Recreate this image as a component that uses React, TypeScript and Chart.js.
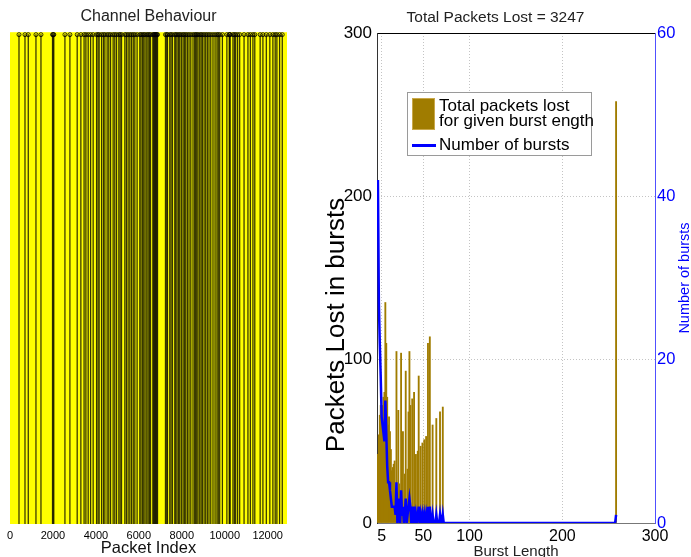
import React, { useEffect, useRef } from 'react';
import { Chart, registerables } from 'chart.js';
Chart.register(...registerables);

const FONT = "'Liberation Sans', Arial, Helvetica, sans-serif";
Chart.defaults.font.family = FONT;

// ---- Left panel: channel behaviour (indices of lost packets) ----
const lossPacketIndex = [
  419, 698, 851, 1209, 1442, 1980, 2013, 2040, 2558, 2790, 3129, 3300, 3450, 3534, 3641, 3753,
  3873, 4032, 4100, 4152, 4264, 4350, 4418, 4524, 4600, 4683, 4803, 4880, 4962, 5069, 5130,
  5194, 5348, 5420, 5501, 5580, 5659, 5740, 5813, 5919, 6045, 6100, 6171, 6230, 6291, 6370,
  6431, 6490, 6543, 6650, 6690, 6720, 6750, 6780, 6810, 6840, 6870, 7240, 7300, 7333, 7440,
  7500, 7566, 7673, 7720, 7779, 7850, 7905, 7980, 8058, 8120, 8184, 8260, 8337, 8420, 8523,
  8600, 8649, 8700, 8756, 8835, 8900, 8961, 9040, 9114, 9190, 9267, 9350, 9453, 9550, 9640,
  9700, 9765, 9891, 10100, 10210, 10230, 10250, 10383, 10450, 10509, 10600, 10695, 10900,
  11081, 11193, 11313, 11400, 11650, 11778, 11937, 12100, 12243, 12350, 12429, 12555, 12680,
];
const channelTicks = [0, 2000, 4000, 6000, 8000, 10000, 12000];

// ---- Right panel: burst statistics ----
const lostBurstLength = [
  1, 2, 3, 4, 5, 6, 7, 8, 9, 10, 11, 12, 13, 14, 15, 16, 17, 18, 19, 20, 21, 23, 24, 26, 27,
  28, 30, 31, 33, 34, 35, 36, 38, 40, 42, 44, 45, 47, 49, 51, 53, 55, 57, 60, 64, 68, 71, 258,
];
const lostPackets = [
  42, 54, 66, 72, 65, 72, 77, 80, 135, 110, 77, 60, 65, 56, 45, 32, 34, 36, 38, 20, 105, 69, 24,
  104, 27, 56, 30, 93, 33, 68, 105, 72, 76, 80, 42, 44, 90, 47, 49, 51, 53, 110, 114, 60, 64,
  68, 71, 258,
];
const burstLength = [
  1, 2, 3, 4, 5, 6, 7, 8, 9, 10, 11, 12, 13, 14, 15, 16, 17, 18, 19, 20, 21, 22, 23, 24, 25, 26,
  27, 28, 29, 30, 31, 32, 33, 34, 35, 36, 37, 38, 39, 40, 41, 42, 43, 44, 45, 46, 47, 48, 49,
  50, 51, 52, 53, 54, 55, 56, 57, 58, 59, 60, 61, 62, 63, 64, 65, 66, 67, 68, 69, 70, 71, 72,
  257, 258,
];
const burstCount = [
  42, 27, 22, 18, 13, 12, 11, 10, 15, 11, 7, 5, 5, 4, 3, 2, 2, 2, 2, 1, 5, 0, 3, 1, 0, 4,
  1, 2, 0, 1, 3, 0, 1, 2, 3, 2, 0, 2, 0, 2, 0, 1, 0, 1, 2, 0, 1, 0, 1,
  0, 1, 0, 1, 0, 2, 0, 2, 0, 0, 1, 0, 0, 0, 1, 0, 0, 0, 1, 0, 0, 1, 0,
  0, 1,
];
const burstTicks = [5, 50, 100, 200, 300];
const lostTicks = [0, 100, 200, 300];
const countTicks = [0, 20, 40, 60];

const leftTitle = 'Channel Behaviour';
const leftXTitle = 'Packet Index';
const rightTitle = 'Total Packets Lost = 3247';
const rightXTitle = 'Burst Length';
const lostAxisTitle = 'Packets Lost in bursts';
const countAxisTitle = 'Number of bursts';
const legendLost = ['Total packets lost', 'for given burst ength'];
const legendCount = 'Number of bursts';

const GOLD = '#a07c00';
const BLUE = '#0000ff';
const plain = (v: any) => String(v);

function ChannelChart() {
  const ref = useRef<HTMLCanvasElement>(null);
  useEffect(() => {
    const yellowBg = {
      id: 'yellowBg',
      beforeDatasetsDraw(chart: any) {
        const { ctx, chartArea: a } = chart;
        ctx.save();
        ctx.fillStyle = '#ffff00';
        ctx.fillRect(a.left, a.top, a.right - a.left, a.bottom - a.top);
        ctx.restore();
      },
    };
    const chart = new Chart(ref.current as HTMLCanvasElement, {
      type: 'bar',
      data: {
        datasets: [
          {
            type: 'scatter',
            data: lossPacketIndex.map((v) => ({ x: v, y: 1 })),
            pointStyle: 'circle',
            pointRadius: 2,
            borderColor: '#000',
            backgroundColor: 'rgba(0,0,0,0)',
            borderWidth: 0.8,
            clip: false,
            order: 0,
          } as any,
          {
            type: 'bar',
            data: lossPacketIndex.map((v) => ({ x: v, y: 1 })),
            backgroundColor: 'rgba(20,20,0,0.85)',
            barThickness: 0.6,
            order: 1,
          } as any,
        ],
      },
      options: {
        animation: false,
        responsive: false,
        devicePixelRatio: 1,
        layout: { padding: { left: 10, right: 13, top: 0, bottom: 0 } },
        plugins: {
          legend: { display: false },
          tooltip: { enabled: false },
          title: {
            display: true,
            text: leftTitle,
            color: '#222',
            font: { size: 16, weight: 'normal' },
            padding: { top: 7, bottom: 6 },
          },
        },
        scales: {
          x: {
            type: 'linear',
            offset: false,
            min: 0,
            max: 12900,
            afterBuildTicks: (s: any) => {
              s.ticks = channelTicks.map((v) => ({ value: v }));
            },
            afterFit: (s: any) => {
              s.height = 33;
            },
            ticks: {
              color: '#000',
              font: { size: 11 },
              padding: 5,
              maxRotation: 0,
              autoSkip: false,
              callback: plain,
            },
            grid: { display: false, drawTicks: false, offset: false },
            border: { display: false },
            title: {
              display: true,
              text: leftXTitle,
              color: '#111',
              font: { size: 16.5, lineHeight: 1 },
              padding: 0,
            },
          },
          y: { display: false, min: 0, max: 1.005 },
        },
      } as any,
      plugins: [yellowBg],
    });
    return () => chart.destroy();
  }, []);
  return (
    <canvas
      ref={ref}
      width={300}
      height={557}
      style={{ position: 'absolute', left: 0, top: 0, width: 300, height: 557 }}
    />
  );
}

function BurstChart() {
  const ref = useRef<HTMLCanvasElement>(null);
  useEffect(() => {
    const yTitles = {
      id: 'yTitles',
      afterDraw(chart: any) {
        const { ctx, chartArea: a } = chart;
        const midY = (a.top + a.bottom) / 2;
        ctx.save();
        ctx.textAlign = 'center';
        ctx.textBaseline = 'middle';
        ctx.font = `26px ${FONT}`;
        ctx.fillStyle = '#000';
        ctx.translate(37, midY + 47);
        ctx.rotate(-Math.PI / 2);
        ctx.fillText(lostAxisTitle, 0, 0);
        ctx.restore();
        ctx.save();
        ctx.textAlign = 'center';
        ctx.textBaseline = 'middle';
        ctx.font = `14.5px ${FONT}`;
        ctx.fillStyle = BLUE;
        ctx.translate(a.right + 30, midY);
        ctx.rotate(-Math.PI / 2);
        ctx.fillText(countAxisTitle, 0, 0);
        ctx.restore();
      },
    };
    const chart = new Chart(ref.current as HTMLCanvasElement, {
      type: 'bar',
      data: {
        datasets: [
          {
            type: 'line',
            label: legendCount,
            data: burstLength.map((x, i) => ({ x, y: burstCount[i] })),
            yAxisID: 'y2',
            xAxisID: 'x',
            borderColor: BLUE,
            borderWidth: 2.5,
            pointRadius: 0,
            tension: 0,
            order: 0,
          } as any,
          {
            type: 'bar',
            label: legendLost.join(' '),
            data: lostBurstLength.map((x, i) => ({ x, y: lostPackets[i] })),
            yAxisID: 'y',
            xAxisID: 'x',
            backgroundColor: GOLD,
            barThickness: 1.2,
            order: 1,
          } as any,
        ],
      },
      options: {
        animation: false,
        responsive: false,
        devicePixelRatio: 1,
        layout: { padding: 0 },
        plugins: {
          legend: { display: false },
          tooltip: { enabled: false },
          title: {
            display: true,
            text: rightTitle,
            color: '#222',
            font: { size: 15.5, weight: 'normal' },
            padding: { top: 8, bottom: 6.4 },
          },
        },
        scales: {
          x: {
            type: 'linear',
            position: 'bottom',
            offset: false,
            min: 0,
            max: 300,
            afterBuildTicks: (s: any) => {
              s.ticks = burstTicks.map((v) => ({ value: v }));
            },
            afterFit: (s: any) => {
              s.height = 34;
            },
            ticks: {
              color: '#000',
              font: { size: 16 },
              padding: 4,
              maxRotation: 0,
              autoSkip: false,
              callback: plain,
            },
            grid: { color: '#c4c4c4', drawTicks: false, offset: false },
            border: { display: true, color: '#777', dash: [1, 2] },
            title: {
              display: true,
              text: rightXTitle,
              color: '#222',
              font: { size: 15, lineHeight: 0.75 },
              padding: 0,
            },
          },
          xTop: {
            type: 'linear',
            position: 'top',
            offset: false,
            min: 0,
            max: 300,
            ticks: { display: false },
            grid: { drawOnChartArea: false, drawTicks: false },
            border: { display: true, color: '#000' },
            afterFit: (s: any) => {
              s.height = 0;
            },
          },
          y: {
            type: 'linear',
            position: 'left',
            min: 0,
            max: 300,
            afterBuildTicks: (s: any) => {
              s.ticks = lostTicks.map((v) => ({ value: v }));
            },
            afterFit: (s: any) => {
              s.width = 77;
            },
            ticks: { color: '#000', font: { size: 17 }, padding: 5, callback: plain },
            grid: { color: '#c4c4c4', drawTicks: false },
            border: { display: true, color: '#333', dash: [1, 2] },
          },
          y2: {
            type: 'linear',
            position: 'right',
            min: 0,
            max: 60,
            afterBuildTicks: (s: any) => {
              s.ticks = countTicks.map((v) => ({ value: v }));
            },
            afterFit: (s: any) => {
              s.width = 36;
            },
            ticks: { color: BLUE, font: { size: 16.5 }, padding: 2, callback: plain },
            grid: { drawOnChartArea: false, drawTicks: false },
            border: { display: true, color: '#5050ff' },
          },
        },
      } as any,
      plugins: [yTitles],
    });
    return () => chart.destroy();
  }, []);
  return (
    <canvas
      ref={ref}
      width={391}
      height={557}
      style={{ position: 'absolute', left: 300, top: 0, width: 391, height: 557 }}
    />
  );
}

function Legend() {
  return (
    <div
      style={{
        position: 'absolute',
        left: 407,
        top: 92,
        width: 185,
        height: 64,
        border: '1px solid #9a9a9a',
        background: '#fff',
        fontFamily: FONT,
        fontSize: 17,
        color: '#000',
        boxSizing: 'border-box',
      }}
    >
      <div
        style={{
          position: 'absolute',
          left: 4,
          top: 5,
          width: 23,
          height: 32,
          background: GOLD,
          boxSizing: 'border-box',
          border: '1px solid #c9a84a',
        }}
      />
      <div style={{ position: 'absolute', left: 31, top: 5, lineHeight: '15px', whiteSpace: 'nowrap' }}>
        <div>{legendLost[0]}</div>
        <div>{legendLost[1]}</div>
      </div>
      <div
        style={{ position: 'absolute', left: 4, top: 51, width: 24, height: 2.5, background: BLUE }}
      />
      <div style={{ position: 'absolute', left: 31, top: 43, lineHeight: '17px', whiteSpace: 'nowrap' }}>
        {legendCount}
      </div>
    </div>
  );
}

export default function App() {
  return (
    <div
      style={{
        position: 'fixed',
        left: 0,
        top: 0,
        width: 691,
        height: 557,
        background: '#fff',
        overflow: 'hidden',
      }}
    >
      <ChannelChart />
      <BurstChart />
      <Legend />
    </div>
  );
}
